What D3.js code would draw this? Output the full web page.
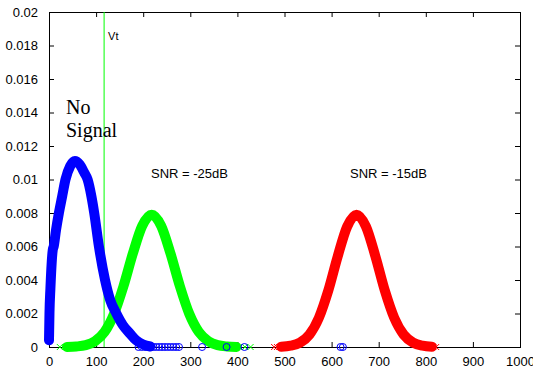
<!DOCTYPE html>
<html>
<head>
<meta charset="utf-8">
<script src="https://cdn.jsdelivr.net/npm/d3@7"></script>
<style>
  body { margin: 0; background: #fff; }
  svg { display: block; }
  text { font-family: "Liberation Sans", Arial, sans-serif; }
</style>
</head>
<body>
<svg class="chart" width="533" height="369"></svg>
<script>
// tick values and labels
let xTicks = [0, 100, 200, 300, 400, 500, 600, 700, 800, 900, 1000];
let yTicks = [0, 0.002, 0.004, 0.006, 0.008, 0.01, 0.012, 0.014, 0.016, 0.018, 0.02];
let yTickLabels = ["0", "0.002", "0.004", "0.006", "0.008", "0.01", "0.012", "0.014", "0.016", "0.018", "0.02"];

// no signal (blue circles)
let blueX = [0, 1, 3, 8, 10, 15, 21, 28, 35, 45, 55, 65, 75, 82, 90, 96, 106, 119, 130, 143, 157, 172, 185, 200, 215];
let blueY = [0.0004, 0.002, 0.0035, 0.0058, 0.006, 0.007, 0.008, 0.009, 0.010, 0.0108, 0.0111, 0.0109, 0.0104, 0.0100, 0.0090, 0.0080, 0.0060, 0.0040, 0.0028, 0.0020, 0.0013, 0.0008, 0.0004, 0.00015, 0.00003];
let blueTailX = [190, 197, 204, 210, 216, 222, 228, 234, 240, 246, 252, 258, 264, 270, 276, 325, 377, 415, 619, 624];

// SNR = -25dB (green crosses)
let greenX = [38, 58, 78, 98, 118, 138, 158, 178, 198, 218, 238, 258, 278, 298, 318, 338, 358, 378, 398];
let greenY = [0.000005, 0.00003, 0.00011, 0.00035, 0.0009, 0.00197, 0.00362, 0.00558, 0.00724, 0.0079, 0.00724, 0.00558, 0.00362, 0.00197, 0.0009, 0.00035, 0.00011, 0.00003, 0.000005];
let greenTailX = [23, 49, 59, 64, 70, 404, 416, 428];

// SNR = -15dB (red crosses)
let redX = [493, 513, 533, 553, 573, 593, 613, 633, 653, 673, 693, 713, 733, 753, 773, 793, 813];
let redY = [0.000019, 0.000077, 0.00026, 0.00074, 0.00174, 0.00337, 0.00541, 0.00719, 0.0079, 0.00719, 0.00541, 0.00337, 0.00174, 0.00074, 0.00026, 0.000077, 0.000019];
let redTailX = [478, 484, 490, 816, 822];

let vt = 117;

let svg = d3.select("body").select(".chart");
let margin = {top: 12, right: 13, bottom: 22, left: 49};
let plotWidth = 533 - margin.left - margin.right;
let plotHeight = 369 - margin.top - margin.bottom;

let x = d3.scaleLinear().domain([0, 1000]).range([0, plotWidth]);
let y = d3.scaleLinear().domain([0, 0.02]).range([plotHeight, 0]);

let plot = svg.append("g").attr("transform", translate(margin.left, margin.top));

// axes, matlab style: ticks inward on all four sides
let tickStyle = g => {
  g.select(".domain").remove();
  g.selectAll("line").attr("stroke", "#000");
  g.selectAll("text").attr("fill", "#000").style("font-size", "13px");
};
plot.append("g").attr("transform", translate(0, plotHeight))
  .call(d3.axisBottom(x).tickValues(xTicks).tickSizeInner(-5).tickSizeOuter(0).tickPadding(10).tickFormat(d3.format("d")))
  .call(tickStyle);
plot.append("g")
  .call(d3.axisTop(x).tickValues(xTicks).tickSizeInner(-5).tickSizeOuter(0).tickFormat(""))
  .call(tickStyle);
plot.append("g")
  .call(d3.axisLeft(y).tickValues(yTicks).tickSizeInner(-5).tickSizeOuter(0).tickPadding(11).tickFormat((d, i) => yTickLabels[i]))
  .call(tickStyle);
plot.append("g").attr("transform", translate(plotWidth, 0))
  .call(d3.axisRight(y).tickValues(yTicks).tickSizeInner(-5).tickSizeOuter(0).tickFormat(""))
  .call(tickStyle);
plot.append("rect")
  .attr("width", plotWidth).attr("height", plotHeight)
  .attr("fill", "none").attr("stroke", "#000").attr("stroke-width", 1)
  .attr("shape-rendering", "crispEdges");

let line = d3.line().x(d => x(d[0])).y(d => y(d[1])).curve(d3.curveMonotoneX);

let drawCurve = function(xs, ys, color) {
  plot.append("path")
    .datum(d3.zip(xs, ys))
    .attr("d", line)
    .attr("fill", "none")
    .attr("stroke", color)
    .attr("stroke-width", 10)
    .attr("stroke-linejoin", "round")
    .attr("stroke-linecap", "round");
};

let drawCrosses = function(xs, color) {
  let s = 3;
  plot.append("g").selectAll("path")
    .data(xs).join("path")
    .attr("d", d => `M${x(d) - s},${y(0) - s}L${x(d) + s},${y(0) + s}M${x(d) - s},${y(0) + s}L${x(d) + s},${y(0) - s}`)
    .attr("stroke", color)
    .attr("stroke-width", 1);
};

// vt threshold line
plot.append("line")
  .attr("x1", x(vt)).attr("x2", x(vt))
  .attr("y1", 0).attr("y2", plotHeight)
  .attr("stroke", "#00ff00").attr("stroke-width", 1);

drawCrosses(greenTailX, "#00ff00");
drawCurve(greenX, greenY, "#00ff00");
drawCrosses(redTailX, "#ff0000");
drawCurve(redX, redY, "#ff0000");
drawCurve(blueX, blueY, "#0000ff");

plot.append("g").selectAll("circle")
  .data(blueTailX).join("circle")
  .attr("cx", d => x(d)).attr("cy", y(0)).attr("r", 3.5)
  .attr("fill", "none").attr("stroke", "#0000ff").attr("stroke-width", 1);

// labels
plot.append("text").attr("x", x(vt) + 4).attr("y", 28)
  .style("font-size", "11px").text("Vt");
svg.append("text").attr("x", 66).attr("y", 114)
  .style("font-family", "'Liberation Serif', 'Times New Roman', serif").style("font-size", "20px").text("No");
svg.append("text").attr("x", 66).attr("y", 137)
  .style("font-family", "'Liberation Serif', 'Times New Roman', serif").style("font-size", "20px").text("Signal");
svg.append("text").attr("x", 151).attr("y", 178).style("font-size", "13px").text("SNR = -25dB");
svg.append("text").attr("x", 350).attr("y", 178).style("font-size", "13px").text("SNR = -15dB");

function translate(x, y) {
  return 'translate(' + x + ',' + y + ')';
}
</script>
</body>
</html>
